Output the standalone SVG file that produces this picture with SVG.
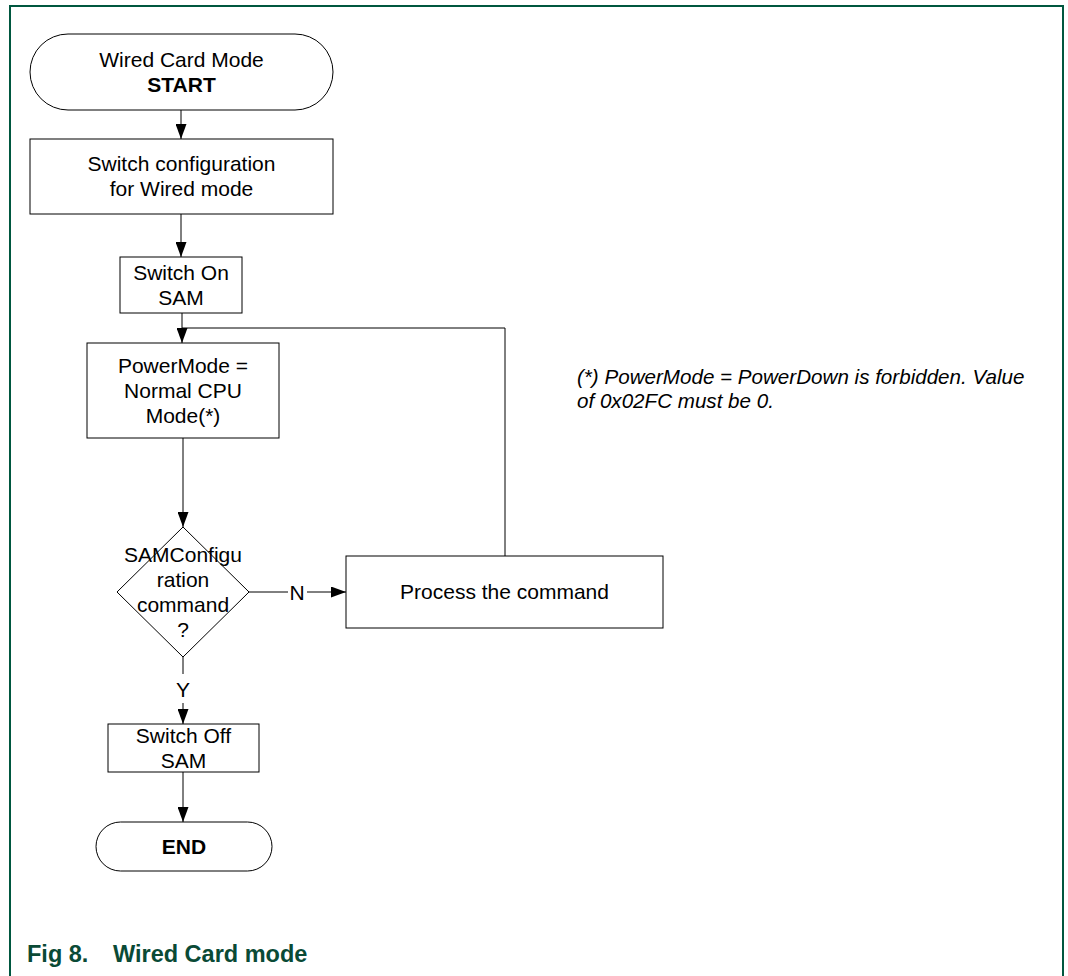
<svg xmlns="http://www.w3.org/2000/svg" width="1068" height="976" viewBox="0 0 1068 976">
<style>
.n{fill:#fff;stroke:#000;stroke-width:1}
.t{font-family:"Liberation Sans",Arial,sans-serif;font-size:21px;fill:#000;text-anchor:middle}
.b{font-weight:bold}
.c{fill:none;stroke:#000;stroke-width:1}
.note{font-family:"Liberation Sans",Arial,sans-serif;font-size:20.6px;font-style:italic;fill:#000}
.cap{font-family:"Liberation Sans",Arial,sans-serif;font-size:23.5px;font-weight:bold;fill:#0a4a36}
</style>
<defs>
<marker id="ah" markerWidth="15" markerHeight="11" refX="15" refY="5.5" orient="auto" markerUnits="userSpaceOnUse">
<path d="M0,0 L15,5.5 L0,11 Z" fill="#000"/>
</marker>
</defs>
<rect width="1068" height="976" fill="#fff"/>
<path d="M10,976 V6 H1063 V976" fill="none" stroke="#00573f" stroke-width="2"/>

<g id="connectors">
<path class="c" d="M181,110 V139" marker-end="url(#ah)"/>
<path class="c" d="M181,214 V257" marker-end="url(#ah)"/>
<path class="c" d="M182,313 V343" marker-end="url(#ah)"/>
<path class="c" d="M505,556 V328 H182"/>
<path class="c" d="M183,438 V527" marker-end="url(#ah)"/>
<path class="c" d="M249,592 H288"/>
<path class="c" d="M307,592 H346" marker-end="url(#ah)"/>
<text class="t" x="297" y="599.5">N</text>
<path class="c" d="M183,657 V674"/>
<path class="c" d="M183,703 V724" marker-end="url(#ah)"/>
<text class="t" x="183" y="697">Y</text>
<path class="c" d="M183,772 V822" stroke-width="2" marker-end="url(#ah)"/>
</g>

<g id="start">
<rect class="n" x="30" y="34" width="303" height="76" rx="38"/>
<text class="t" x="181.5" y="66.5">Wired Card Mode</text>
<text class="t b" x="181.5" y="91.5">START</text>
</g>
<g id="switch-config">
<rect class="n" x="30" y="139" width="303" height="75"/>
<text class="t" x="181.5" y="171">Switch configuration</text>
<text class="t" x="181.5" y="196">for Wired mode</text>
</g>
<g id="switch-on">
<rect class="n" x="120" y="257" width="122" height="56"/>
<text class="t" x="181" y="280">Switch On</text>
<text class="t" x="181" y="305">SAM</text>
</g>
<g id="powermode">
<rect class="n" x="87" y="343" width="192" height="95"/>
<text class="t" x="183" y="373">PowerMode =</text>
<text class="t" x="183" y="398">Normal CPU</text>
<text class="t" x="183" y="423">Mode(*)</text>
</g>
<g id="decision">
<path class="n" d="M183,527 L249,592 L183,657 L117,592 Z"/>
<text class="t" x="183" y="561.5">SAMConfigu</text>
<text class="t" x="183" y="586.5">ration</text>
<text class="t" x="183" y="611.5">command</text>
<text class="t" x="183" y="636.5">?</text>
</g>
<g id="process">
<rect class="n" x="346" y="556" width="317" height="72"/>
<text class="t" x="504.5" y="598.5">Process the command</text>
</g>
<g id="switch-off">
<rect class="n" x="108" y="724" width="151" height="48"/>
<text class="t" x="183.5" y="743">Switch Off</text>
<text class="t" x="183.5" y="768">SAM</text>
</g>
<g id="end">
<rect class="n" x="96" y="822" width="176" height="49" rx="24.5"/>
<text class="t b" x="184" y="854">END</text>
</g>
<g id="note">
<text class="note" x="577" y="384">(*) PowerMode = PowerDown is forbidden. Value</text>
<text class="note" x="577" y="408">of 0x02FC must be 0.</text>
</g>
<g id="caption">
<text class="cap" x="27" y="962">Fig 8.</text>
<text class="cap" x="113" y="962">Wired Card mode</text>
</g>
</svg>
